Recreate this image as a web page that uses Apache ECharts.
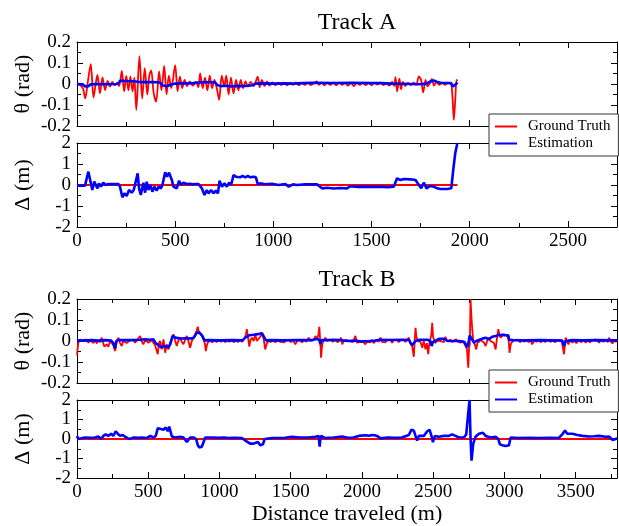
<!DOCTYPE html>
<html><head><meta charset="utf-8">
<script src="https://cdn.jsdelivr.net/npm/echarts@6/dist/echarts.min.js"></script>
<style>html,body{margin:0;padding:0;background:#fff}#c{width:619px;height:526px}</style>
</head><body><div id="c"></div>
<script>
// ---------------- DATA ----------------
const seriesNames = ['Ground Truth', 'Estimation'];
const trackTitles = ['Track A', 'Track B'];
const yNames = ['θ (rad)', 'Δ (m)'];
const xName = 'Distance traveled (m)';

// Track A, heading error theta (rad): [distance m, value]
const tA_theta_gt = [[0,0.002],[15,-0.005],[30,-0.02],[42,-0.068],[55,0.01],[70,0.094],[84,-0.064],[95,0.0],[104,0.043],[117,-0.044],[130,0.032],[143,-0.029],[156,0.015],[168,-0.012],[180,0.01],[192,-0.006],[205,0.004],[215,-0.01],[228,0.062],[240,-0.035],[251,0.038],[262,-0.03],[272,0.035],[283,-0.035],[292,0.03],[302,-0.124],[318,0.133],[332,-0.07],[345,0.075],[358,-0.05],[368,0.04],[378,0.065],[390,-0.04],[403,-0.084],[418,0.06],[430,-0.03],[444,0.086],[456,-0.05],[468,0.04],[480,-0.02],[500,0.09],[512,-0.035],[524,0.035],[536,-0.02],[548,0.02],[560,-0.01],[575,0.012],[590,-0.008],[605,0.01],[618,-0.015],[627,0.05],[640,-0.02],[652,0.03],[664,-0.03],[676,0.04],[688,-0.02],[700,0.02],[712,-0.02],[724,-0.075],[737,0.04],[750,-0.01],[760,0.04],[772,-0.05],[784,0.03],[797,-0.045],[810,0.02],[822,-0.03],[834,0.02],[846,-0.02],[858,0.012],[870,-0.012],[885,0.01],[900,-0.01],[920,0.035],[930,-0.015],[942,0.02],[955,-0.01],[968,0.012],[980,-0.008],[995,0.008],[1010,-0.006],[1025,0.007],[1040,-0.005],[1055,0.006],[1070,-0.006],[1085,0.005],[1100,-0.004],[1115,0.008],[1130,-0.006],[1145,0.005],[1160,-0.004],[1175,0.005],[1190,-0.005],[1205,0.003],[1220,0.012],[1232,-0.004],[1245,0.008],[1260,-0.006],[1275,0.006],[1290,-0.004],[1305,0.006],[1320,-0.006],[1335,0.007],[1350,-0.004],[1365,0.005],[1380,-0.008],[1395,0.006],[1410,-0.01],[1425,0.005],[1440,-0.004],[1455,0.006],[1470,-0.005],[1485,0.004],[1500,-0.006],[1515,0.005],[1530,-0.003],[1545,0.006],[1560,-0.005],[1575,0.004],[1590,-0.008],[1605,0.01],[1615,-0.01],[1622,0.033],[1630,-0.035],[1642,0.025],[1650,-0.025],[1660,0.01],[1672,-0.01],[1685,0.005],[1700,-0.005],[1715,0.006],[1728,-0.004],[1741,0.036],[1752,0.02],[1763,-0.04],[1775,0.02],[1785,-0.01],[1797,0.004],[1807,0.024],[1818,-0.008],[1830,0.01],[1845,-0.004],[1860,0.006],[1875,-0.004],[1890,0.005],[1905,0.0],[1912,-0.06],[1919,-0.171],[1926,-0.08],[1933,0.02],[1938,0.015]];
const tA_theta_est = [[0,0.0],[30,-0.002],[42,-0.012],[50,-0.02],[58,-0.01],[70,-0.002],[100,0.0],[150,-0.001],[200,0.0],[212,0.004],[220,0.016],[250,0.014],[280,0.013],[300,0.012],[313,0.01],[340,0.009],[380,0.009],[410,0.008],[424,0.006],[435,-0.006],[450,-0.01],[465,-0.008],[480,-0.002],[500,0.002],[530,0.003],[560,0.003],[590,0.004],[619,0.007],[650,0.008],[680,0.008],[704,0.007],[712,-0.004],[730,-0.01],[760,-0.008],[790,-0.012],[800,-0.015],[815,-0.009],[840,-0.01],[870,-0.008],[895,-0.006],[908,0.002],[940,0.003],[1000,0.002],[1060,0.003],[1100,0.002],[1150,0.004],[1200,0.006],[1300,0.005],[1400,0.006],[1500,0.005],[1550,0.004],[1600,0.002],[1650,0.001],[1700,0.0],[1740,-0.001],[1780,0.002],[1800,0.012],[1816,0.017],[1835,0.01],[1850,0.006],[1880,0.005],[1905,0.004],[1915,-0.012],[1922,-0.015],[1930,0.0],[1938,0.007]];

// Track A, lateral error delta (m)
const tA_delta_gt = [[0,0],[1938,0]];
const tA_delta_est = [[0,-0.03],[41,-0.03],[49,0.3],[58,0.635],[66,0.556],[78,-0.238],[88,0.159],[95,0.206],[104,-0.159],[112,0.079],[122,-0.079],[134,0.111],[146,0.0],[160,0.048],[185,0.04],[211,0.048],[219,-0.079],[231,-0.587],[241,-0.397],[253,-0.524],[265,-0.238],[279,-0.365],[289,-0.238],[299,-0.317],[309,0.556],[316,-0.159],[325,-0.476],[338,0.111],[347,-0.365],[355,0.159],[364,-0.238],[374,0.0],[384,-0.317],[394,-0.079],[406,-0.27],[415,-0.079],[427,-0.159],[435,0.0],[449,0.603],[459,0.397],[469,0.587],[483,0.238],[491,-0.079],[500,0.0],[508,-0.159],[520,0.206],[530,0.0],[542,0.111],[559,0.048],[575,0.06],[590,0.03],[605,0.05],[619,0.048],[627,0.127],[636,-0.159],[649,-0.476],[661,-0.238],[670,-0.397],[683,-0.238],[695,-0.397],[707,-0.27],[718,-0.397],[726,0.206],[738,-0.079],[751,0.079],[763,-0.079],[775,0.111],[785,0.0],[797,0.476],[809,0.397],[819,0.444],[831,0.365],[843,0.429],[857,0.365],[870,0.429],[882,0.365],[899,0.397],[911,0.365],[921,0.032],[933,0.079],[959,0.032],[993,0.063],[1027,0.0],[1061,0.048],[1078,-0.079],[1100,0.03],[1120,0.0],[1163,0.03],[1205,0.03],[1222,0.03],[1248,-0.159],[1275,-0.13],[1307,-0.17],[1340,-0.14],[1375,-0.159],[1392,-0.06],[1430,-0.09],[1460,-0.079],[1500,-0.09],[1545,-0.08],[1580,-0.1],[1613,-0.079],[1630,0.317],[1647,0.238],[1664,0.286],[1698,0.27],[1724,0.238],[1741,0.0],[1753,-0.159],[1766,0.111],[1780,-0.159],[1797,-0.05],[1817,-0.079],[1834,-0.159],[1851,-0.19],[1885,-0.19],[1906,-0.159],[1916,0.714],[1926,1.5],[1937,2.0]];

// Track B, heading error theta (rad)
const tB_theta_gt = [[0,-0.068],[9,-0.008],[21,0.003],[33,-0.006],[45,0.005],[56,-0.004],[68,0.006],[80,-0.008],[92,0.004],[103,0.0],[115,-0.01],[127,0.006],[138,-0.012],[150,0.004],[162,-0.006],[173,0.016],[192,-0.027],[208,-0.016],[220,-0.027],[232,0.0],[244,-0.008],[255,-0.02],[267,-0.048],[280,0.0],[291,0.016],[302,-0.01],[314,-0.024],[325,0.0],[337,0.008],[349,-0.01],[361,-0.016],[372,0.004],[384,-0.004],[396,0.006],[408,-0.008],[420,0.004],[431,-0.005],[443,0.024],[455,-0.004],[466,-0.016],[478,0.004],[490,0.008],[502,-0.008],[513,-0.008],[525,0.004],[537,0.012],[548,-0.02],[560,-0.024],[567,-0.063],[575,-0.01],[583,0.0],[595,-0.04],[607,0.008],[619,-0.056],[630,-0.016],[642,-0.04],[654,-0.01],[665,-0.016],[677,0.032],[689,0.0],[700,-0.024],[712,0.004],[724,0.016],[735,-0.004],[747,-0.016],[759,0.006],[771,0.024],[782,0.0],[794,-0.032],[806,0.0],[818,0.008],[829,0.032],[840,0.05],[848,0.068],[856,0.04],[865,0.04],[876,0.025],[888,0.024],[897,-0.01],[904,-0.048],[912,-0.02],[918,-0.008],[935,0.003],[950,-0.006],[965,0.004],[980,-0.005],[995,0.006],[1010,-0.004],[1025,0.005],[1040,-0.006],[1055,0.004],[1070,-0.004],[1085,0.006],[1100,-0.006],[1115,0.004],[1130,-0.005],[1145,0.005],[1160,-0.004],[1175,0.01],[1185,0.03],[1192,0.056],[1200,0.02],[1209,-0.027],[1218,0.005],[1227,0.016],[1240,0.0],[1251,0.032],[1262,0.0],[1274,-0.008],[1286,0.02],[1298,0.037],[1310,0.01],[1321,-0.04],[1333,-0.01],[1345,0.0],[1360,-0.005],[1375,0.004],[1392,-0.006],[1410,0.005],[1425,-0.004],[1439,0.004],[1455,-0.006],[1470,0.003],[1485,0.006],[1500,-0.005],[1515,0.004],[1532,-0.016],[1545,0.0],[1560,0.005],[1579,-0.006],[1595,0.004],[1610,-0.004],[1626,0.016],[1640,0.0],[1654,-0.008],[1665,0.01],[1673,0.024],[1685,0.01],[1694,0.03],[1701,0.068],[1707,0.0],[1713,-0.079],[1719,-0.03],[1724,-0.008],[1743,0.016],[1755,0.0],[1766,-0.006],[1780,0.005],[1795,-0.004],[1813,0.004],[1830,-0.006],[1843,0.004],[1853,0.016],[1862,-0.016],[1872,0.0],[1890,0.005],[1907,0.0],[1918,0.006],[1936,-0.006],[1954,0.024],[1965,-0.008],[1977,-0.01],[1989,-0.004],[2000,-0.012],[2012,-0.006],[2024,-0.016],[2036,-0.004],[2047,-0.01],[2059,-0.006],[2071,0.004],[2082,-0.01],[2094,-0.004],[2105,0.006],[2117,-0.004],[2129,0.016],[2140,-0.004],[2152,0.004],[2165,-0.006],[2177,0.004],[2188,-0.004],[2200,0.006],[2212,-0.008],[2223,0.004],[2235,-0.004],[2247,0.006],[2258,-0.006],[2270,0.004],[2282,-0.004],[2293,0.006],[2305,-0.005],[2317,0.004],[2329,0.016],[2340,-0.01],[2352,-0.024],[2364,-0.075],[2370,0.0],[2376,0.063],[2382,0.02],[2387,0.016],[2395,-0.005],[2404,0.008],[2413,-0.01],[2423,-0.032],[2434,0.0],[2446,-0.04],[2455,-0.01],[2465,-0.063],[2473,-0.01],[2481,-0.008],[2487,0.03],[2493,0.087],[2499,0.02],[2505,0.008],[2513,-0.01],[2521,-0.016],[2530,0.002],[2540,0.011],[2552,0.0],[2563,0.0],[2575,-0.006],[2586,0.02],[2598,0.0],[2610,-0.008],[2621,0.006],[2633,-0.005],[2647,0.004],[2661,0.008],[2676,-0.004],[2692,-0.008],[2705,0.002],[2715,-0.01],[2727,-0.024],[2737,-0.04],[2746,-0.127],[2752,-0.03],[2757,-0.016],[2762,0.2],[2768,0.12],[2774,0.056],[2780,0.01],[2786,-0.008],[2794,-0.02],[2802,-0.04],[2810,-0.01],[2821,-0.008],[2832,0.004],[2844,0.008],[2856,-0.006],[2868,-0.024],[2880,0.004],[2891,0.016],[2903,0.0],[2914,0.0],[2926,-0.01],[2938,-0.04],[2947,0.01],[2957,0.056],[2965,0.03],[2973,0.016],[2985,0.02],[2997,0.032],[3008,0.03],[3020,0.024],[3030,0.0],[3036,-0.056],[3043,-0.02],[3050,-0.008],[3065,0.004],[3079,-0.004],[3095,0.006],[3110,-0.006],[3125,0.004],[3140,-0.004],[3155,0.005],[3170,-0.006],[3183,0.004],[3195,-0.016],[3210,0.002],[3225,-0.004],[3240,0.006],[3254,-0.006],[3270,0.004],[3285,-0.005],[3300,0.005],[3312,0.01],[3325,-0.004],[3340,0.004],[3355,-0.006],[3371,0.004],[3385,-0.004],[3400,0.004],[3406,-0.016],[3418,-0.063],[3424,-0.02],[3430,0.016],[3440,-0.004],[3449,-0.016],[3460,0.004],[3477,-0.008],[3490,0.004],[3505,-0.01],[3523,0.004],[3540,-0.006],[3555,0.005],[3570,-0.008],[3585,0.004],[3600,-0.006],[3617,0.005],[3630,-0.004],[3645,0.006],[3664,-0.008],[3680,0.005],[3695,-0.004],[3711,0.006],[3725,-0.006],[3734,0.016],[3745,0.0],[3758,-0.012],[3770,0.006],[3781,-0.004],[3790,0.004]];
const tB_theta_est = [[0,0.003],[50,0.002],[100,0.004],[150,0.002],[200,0.004],[240,0.002],[255,-0.01],[267,-0.035],[276,0.0],[291,0.004],[340,0.005],[400,0.004],[443,0.006],[480,0.008],[510,0.006],[536,0.008],[550,-0.008],[572,-0.02],[590,-0.03],[619,-0.024],[640,-0.03],[654,-0.016],[671,0.024],[690,0.016],[730,0.012],[771,0.013],[800,0.012],[820,0.016],[841,0.04],[860,0.04],[880,0.024],[895,0.003],[930,0.004],[1000,0.003],[1100,0.004],[1160,0.003],[1181,0.016],[1209,0.027],[1240,0.03],[1251,0.032],[1280,0.034],[1298,0.037],[1312,0.032],[1326,0.003],[1360,0.004],[1450,0.003],[1550,0.005],[1650,0.004],[1670,0.008],[1690,0.01],[1703,0.0],[1708,-0.015],[1715,0.004],[1760,0.004],[1800,0.006],[1850,0.004],[1900,0.0],[1950,0.002],[2000,-0.002],[2050,0.0],[2094,0.002],[2129,0.006],[2200,0.005],[2280,0.006],[2329,0.005],[2340,-0.008],[2352,-0.02],[2364,-0.01],[2376,0.0],[2404,0.006],[2460,0.006],[2480,0.0],[2489,-0.024],[2497,-0.005],[2505,0.0],[2540,0.01],[2575,0.011],[2586,0.02],[2600,0.0],[2680,0.0],[2720,-0.005],[2739,-0.03],[2750,0.0],[2756,0.027],[2765,0.016],[2786,-0.008],[2802,0.0],[2844,0.011],[2868,0.016],[2891,0.008],[2914,0.02],[2938,0.024],[2957,0.027],[2970,0.032],[2985,0.03],[3000,0.028],[3027,0.027],[3034,0.005],[3060,0.004],[3150,0.003],[3250,0.004],[3350,0.003],[3406,0.002],[3419,-0.024],[3430,0.0],[3477,0.004],[3550,0.003],[3650,0.004],[3790,0.003]];

// Track B, lateral error delta (m)
const tB_delta_gt = [[0,0],[3790,0]];
const tB_delta_est = [[0,0.159],[9,0.0],[21,0.079],[56,0.079],[90,0.06],[127,0.079],[150,0.127],[169,0.0],[185,0.159],[201,0.238],[220,0.159],[239,0.27],[255,0.159],[272,0.397],[286,0.27],[302,0.159],[319,0.206],[337,0.127],[349,0.206],[366,0.0],[400,0.079],[430,0.06],[455,0.079],[466,0.159],[490,0.048],[513,0.159],[537,0.079],[553,0.159],[567,0.556],[580,0.5],[590,0.508],[607,0.476],[623,0.587],[637,0.397],[647,0.635],[666,0.127],[689,0.079],[724,0.111],[747,0.079],[771,-0.159],[783,-0.206],[794,0.079],[818,0.079],[836,0.0],[848,-0.317],[858,-0.429],[876,-0.397],[888,-0.317],[900,0.079],[911,0.111],[950,0.079],[993,0.06],[1030,0.079],[1064,0.048],[1110,0.06],[1157,0.048],[1181,-0.079],[1199,-0.159],[1216,-0.238],[1239,-0.238],[1251,-0.317],[1270,-0.159],[1286,-0.317],[1305,-0.27],[1317,0.0],[1326,0.079],[1370,0.048],[1415,0.048],[1460,0.06],[1509,0.111],[1560,0.079],[1626,0.079],[1673,0.111],[1696,0.159],[1703,-0.397],[1708,0.0],[1713,0.159],[1724,0.206],[1743,0.048],[1800,0.079],[1860,0.127],[1900,0.06],[1940,0.079],[1977,0.159],[2024,0.19],[2050,0.17],[2071,0.206],[2090,0.19],[2106,0.159],[2130,0.032],[2180,0.079],[2230,0.06],[2280,0.079],[2329,0.206],[2348,0.476],[2364,0.429],[2376,0.159],[2387,-0.079],[2399,0.159],[2434,0.159],[2458,0.397],[2474,0.476],[2488,0.159],[2498,-0.159],[2512,0.159],[2540,0.111],[2575,0.159],[2610,0.159],[2633,0.238],[2657,0.159],[2680,0.079],[2715,0.079],[2732,0.238],[2746,1.35],[2755,2.0],[2762,0.079],[2769,-1.11],[2781,-0.238],[2797,0.111],[2821,0.27],[2849,0.317],[2868,0.159],[2903,0.079],[2938,0.111],[2957,0.0],[2968,-0.27],[2985,-0.317],[3008,-0.365],[3032,-0.317],[3043,0.079],[3100,0.048],[3170,0.06],[3240,0.048],[3320,0.06],[3380,0.048],[3406,0.238],[3425,0.429],[3441,0.27],[3477,0.27],[3512,0.206],[3547,0.159],[3594,0.127],[3630,0.14],[3664,0.159],[3711,0.111],[3734,0.127],[3758,-0.048],[3781,0.0],[3790,0.048]];

// axis ranges
const xMaxA = 2750, xMaxB = 3790, xStep = 500, xMinorStep = 250;
const thetaRange = [-0.2, 0.2, 0.1];
const deltaRange = [-2, 2, 1];

// ---------------- CHART ----------------
const FONT = "'Liberation Serif', 'Times New Roman', serif";
const RED = '#ff0000', BLUE = '#0000ff';
const panelTops = [42, 143, 299, 400];
const panelH = 84;

const panels = [
  {xMax: xMaxA, y: thetaRange, showX: false, yName: yNames[0], gt: tA_theta_gt, est: tA_theta_est, smooth: 0.3},
  {xMax: xMaxA, y: deltaRange, showX: true, yName: yNames[1], gt: tA_delta_gt, est: tA_delta_est, smooth: false},
  {xMax: xMaxB, y: thetaRange, showX: false, yName: yNames[0], gt: tB_theta_gt, est: tB_theta_est, smooth: false},
  {xMax: xMaxB, y: deltaRange, showX: true, yName: yNames[1], gt: tB_delta_gt, est: tB_delta_est, smooth: false, xName: xName}
];

const lineAx = {show: true, onZero: false, lineStyle: {color: '#000', width: 1}};
const tickAx = {show: true, inside: true, length: 6, lineStyle: {color: '#000', width: 1}};
const minorTickAx = {show: true, inside: true, length: 4, lineStyle: {color: '#000', width: 1}};
const minorAx = {show: true, splitNumber: 2, length: 4, lineStyle: {color: '#000', width: 1}};

const grid = [], xAxis = [], yAxis = [], series = [];
panels.forEach((p, i) => {
  grid.push({left: 77, right: 2, top: panelTops[i], height: panelH, containLabel: false});
  const xBase = {type: 'value', gridIndex: i, min: 0, max: p.xMax, interval: xStep,
    axisLine: lineAx, axisTick: tickAx, splitLine: {show: false}, minorSplitLine: {show: false}};
  // main bottom axis (labels + major ticks)
  xAxis.push(Object.assign({}, xBase, {position: 'bottom',
    axisLabel: {show: p.showX, margin: 5, fontSize: 19, fontFamily: FONT, color: '#000',
      showMaxLabel: false, formatter: v => String(v)},
    name: p.xName || '', nameLocation: 'middle', nameGap: 25, nameMoveOverlap: false,
    nameTextStyle: {fontSize: 22, fontFamily: FONT, color: '#000'}}));
  // top axis (major ticks)
  xAxis.push(Object.assign({}, xBase, {position: 'top', axisLabel: {show: false}}));
  // minor tick axes (every 250 m), bottom and top
  ['bottom', 'top'].forEach(pos => xAxis.push({type: 'value', gridIndex: i, min: 0, max: p.xMax,
    interval: xMinorStep, position: pos, axisLine: {show: false, onZero: false}, axisTick: minorTickAx,
    axisLabel: {show: false}, splitLine: {show: false}}));
  const yBase = {type: 'value', gridIndex: i, min: p.y[0], max: p.y[1], interval: p.y[2],
    axisLine: lineAx, axisTick: tickAx, minorTick: minorAx, splitLine: {show: false}, minorSplitLine: {show: false}};
  yAxis.push(Object.assign({}, yBase, {position: 'left',
    axisLabel: {show: true, margin: 6, fontSize: 19, fontFamily: FONT, color: '#000',
      showMinLabel: true, showMaxLabel: true, hideOverlap: false},
    name: p.yName, nameLocation: 'middle', nameGap: 43, nameMoveOverlap: false,
    nameTextStyle: {fontSize: 22, fontFamily: FONT, color: '#000'}}));
  yAxis.push(Object.assign({}, yBase, {position: 'right', axisLabel: {show: false}}));
  series.push({type: 'line', name: seriesNames[0], xAxisIndex: 4 * i, yAxisIndex: 2 * i, data: p.gt,
    symbol: 'none', showSymbol: false, clip: true, smooth: p.smooth, lineStyle: {color: RED, width: 1.8}, itemStyle: {color: RED}, z: 2});
  series.push({type: 'line', name: seriesNames[1], xAxisIndex: 4 * i, yAxisIndex: 2 * i, data: p.est,
    symbol: 'none', showSymbol: false, clip: true, lineStyle: {color: BLUE, width: 2.6}, itemStyle: {color: BLUE}, z: 3});
});

const legendBase = {orient: 'vertical', left: 489, data: seriesNames, icon: 'rect', itemWidth: 22, itemHeight: 2, itemGap: 2,
  padding: [5, 8, 5, 6], backgroundColor: '#fff', borderColor: '#333', borderWidth: 1, borderRadius: 0,
  textStyle: {fontSize: 15, lineHeight: 15, fontFamily: FONT, color: '#000', padding: [0, 0, 0, 6]}, selectedMode: false};

const chart = echarts.init(document.getElementById('c'), null, {renderer: 'canvas'});
chart.setOption({
  animation: false,
  backgroundColor: '#fff',
  title: [
    {text: trackTitles[0], left: 352, top: 6, textAlign: 'center', textStyle: {fontSize: 24, fontWeight: 'normal', fontFamily: FONT, color: '#000'}},
    {text: trackTitles[1], left: 352, top: 263, textAlign: 'center', textStyle: {fontSize: 24, fontWeight: 'normal', fontFamily: FONT, color: '#000'}}
  ],
  legend: [Object.assign({}, legendBase, {top: 114}), Object.assign({}, legendBase, {top: 370})],
  grid, xAxis, yAxis, series
});
</script></body></html>
